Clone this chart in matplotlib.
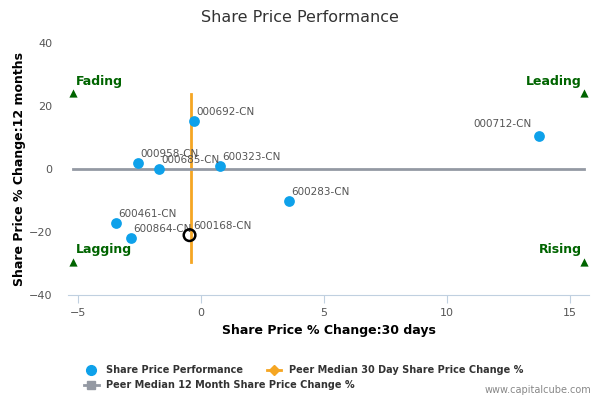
import numpy as np
import matplotlib.pyplot as plt
from matplotlib.lines import Line2D

# share price data: 30 day change (x), 12 month change (y)
tickers = ['000692-CN', '000958-CN', '000685-CN', '600323-CN', '600283-CN',
           '000712-CN', '600461-CN', '600864-CN']
chg_30d = [-0.28, -2.56, -1.7, 0.77, 3.58, 13.74, -3.46, -2.85]
chg_12m = [15.2, 1.9, 0.0, 1.0, -10.2, 10.5, -17.1, -21.9]

focus_name = '600168-CN'
focus_30d = -0.45
focus_12m = -21.0

peer_median_30d = -0.4
peer_median_12m = 0.0
median_30d_span = [-29.5, 23.8]
median_12m_span = [-5.2, 15.6]

quadrants = ['Fading', 'Leading', 'Lagging', 'Rising']
quad_x = [-5.2, 15.6, -5.2, 15.6]
quad_y = [24.0, 24.0, -29.5, -29.5]

blue = '#0ea1ea'
orange = '#f5a623'
gray = '#9499a3'
green = '#006400'

fig = plt.figure(figsize=(6, 4), dpi=100)
ax = fig.add_axes([0.113, 0.2625, 0.869, 0.63])

ax.plot([peer_median_30d, peer_median_30d], median_30d_span, color=orange, lw=2, zorder=2)
ax.plot(median_12m_span, [peer_median_12m, peer_median_12m], color=gray, lw=2, zorder=2)

ax.scatter(chg_30d, chg_12m, s=60, color=blue, zorder=3, linewidths=0)
for name, x, y in zip(tickers, chg_30d, chg_12m):
    if x > 10:
        ax.annotate(name, (x, y), xytext=(-5, 5), textcoords='offset points',
                    ha='right', va='bottom', fontsize=7.5, color='#555555')
    else:
        ax.annotate(name, (x, y), xytext=(2, 3), textcoords='offset points',
                    ha='left', va='bottom', fontsize=7.5, color='#555555')

ax.scatter([focus_30d], [focus_12m], s=70, facecolors='none', edgecolors='black',
           linewidths=1.8, zorder=4)
ax.annotate(focus_name, (focus_30d, focus_12m), xytext=(3, 3), textcoords='offset points',
            ha='left', va='bottom', fontsize=7.5, color='#555555')

for q, x, y in zip(quadrants, quad_x, quad_y):
    ax.scatter([x], [y], marker='^', s=35, color=green, zorder=3, linewidths=0)
    if x < 0:
        ax.annotate(q, (x, y), xytext=(2, 4), textcoords='offset points', ha='left',
                    va='bottom', fontsize=9, fontweight='bold', color=green)
    else:
        ax.annotate(q, (x, y), xytext=(-2, 4), textcoords='offset points', ha='right',
                    va='bottom', fontsize=9, fontweight='bold', color=green)

ax.set_xlim(-5.4, 15.8)
ax.set_ylim(-40, 40)
ax.set_xticks([-5, 0, 5, 10, 15])
ax.set_yticks([-40, -20, 0, 20, 40])
for s in ['top', 'right', 'left']:
    ax.spines[s].set_visible(False)
ax.spines['bottom'].set_color('#c0d0e0')
ax.tick_params(axis='x', colors='#c0d0e0', labelcolor='#555555', labelsize=8, length=6)
ax.tick_params(axis='y', length=0, labelcolor='#555555', labelsize=8, pad=11)

ax.set_xlabel('Share Price % Change:30 days', fontsize=9, fontweight='bold')
ax.set_ylabel('Share Price % Change:12 months', fontsize=9, fontweight='bold', labelpad=2)
fig.suptitle('Share Price Performance', y=0.975, fontsize=11.5, color='#333333')

h_scatter = Line2D([], [], marker='o', ls='none', color=blue, markersize=7)
h_orange = Line2D([], [], marker='D', color=orange, lw=2, markersize=5)
h_gray = Line2D([], [], marker='s', color=gray, lw=2, markersize=6)

leg_kw = dict(frameon=False, fontsize=7, handlelength=1.5, handletextpad=0.8,
              borderpad=0, borderaxespad=0)
leg1 = fig.legend([h_scatter, h_orange],
                  ['Share Price Performance', 'Peer Median 30 Day Share Price Change %'],
                  loc='upper left', bbox_to_anchor=(0.14, 0.0875), ncol=2,
                  columnspacing=2.4, **leg_kw)
leg2 = fig.legend([h_gray], ['Peer Median 12 Month Share Price Change %'],
                  loc='upper left', bbox_to_anchor=(0.14, 0.05), **leg_kw)
for leg in (leg1, leg2):
    for t in leg.get_texts():
        t.set_fontweight('bold')
        t.set_color('#333333')

fig.text(0.985, 0.012, 'www.capitalcube.com', ha='right', va='bottom', fontsize=7,
         color='#888888')

fig.savefig('out.png', dpi=100)
